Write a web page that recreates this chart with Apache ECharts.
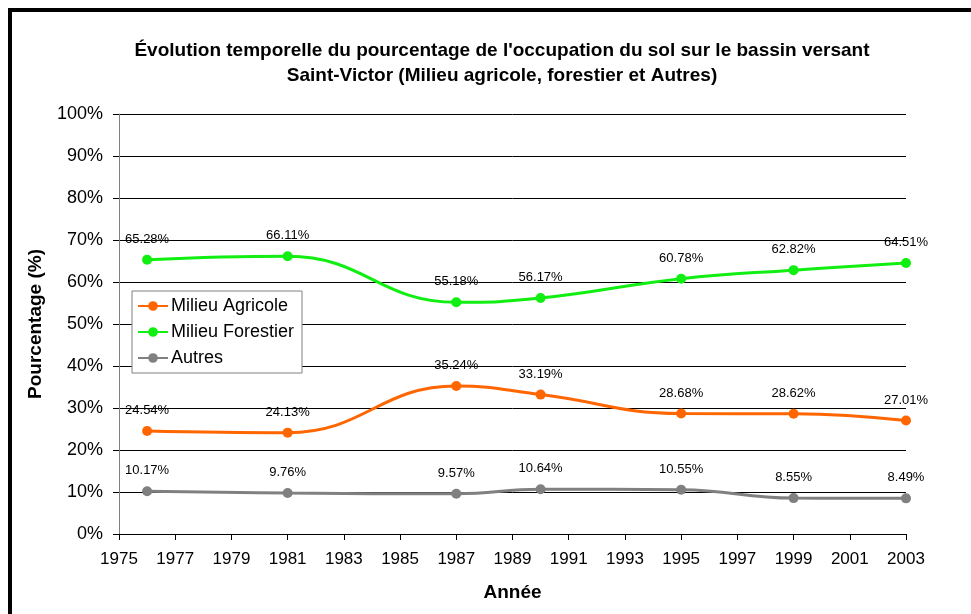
<!DOCTYPE html>
<html>
<head>
<meta charset="utf-8">
<script src="https://cdn.jsdelivr.net/npm/echarts@6/dist/echarts.min.js"></script>
<style>
html, body { margin: 0; padding: 0; background: #fff; }
#chart { width: 971px; height: 614px; }
</style>
</head>
<body>
<div id="chart"></div>
<script>
// donnees
var annees = [1976, 1981, 1987, 1990, 1995, 1999, 2003];
var agricole = [24.54, 24.13, 35.24, 33.19, 28.68, 28.62, 27.01];
var forestier = [65.28, 66.11, 55.18, 56.17, 60.78, 62.82, 64.51];
var autres = [10.17, 9.76, 9.57, 10.64, 10.55, 8.55, 8.49];
var noms = ['Milieu Agricole', 'Milieu Forestier', 'Autres'];
var couleurs = ['#FF6600', '#11EE11', '#808080'];

function paires(vals) {
    var out = [];
    for (var i = 0; i < annees.length; i++) {
        out.push([annees[i], vals[i]]);
    }
    return out;
}

function serie(nom, vals, couleur) {
    return {
        name: nom,
        type: 'line',
        data: paires(vals),
        smooth: 0.45,
        symbol: 'circle',
        symbolSize: 10,
        lineStyle: { width: 3, color: couleur },
        itemStyle: { color: couleur },
        label: {
            show: true,
            position: 'top',
            distance: 9,
            fontFamily: 'Liberation Sans, Arial',
            fontSize: 13,
            color: '#000',
            formatter: function (p) { return p.value[1].toFixed(2) + '%'; }
        },
        emphasis: { disabled: true }
    };
}

var chart = echarts.init(document.getElementById('chart'));
var option = {
    backgroundColor: '#fff',
    animation: false,
    textStyle: { fontFamily: 'Liberation Sans, Arial' },
    graphic: [
        { type: 'rect', shape: { x: 8, y: 8, width: 980, height: 4 }, style: { fill: '#000' } },
        { type: 'rect', shape: { x: 8, y: 8, width: 4, height: 620 }, style: { fill: '#000' } }
    ],
    title: {
        text: "Évolution temporelle du pourcentage de l'occupation du sol sur le bassin versant\nSaint-Victor (Milieu agricole, forestier et Autres)",
        left: 497,
        top: 33,
        textAlign: 'center',
        textStyle: {
            fontFamily: 'Liberation Sans, Arial',
            fontSize: 19,
            fontWeight: 'bold',
            color: '#000',
            lineHeight: 25
        }
    },
    legend: {
        orient: 'vertical',
        left: 132,
        top: 291,
        padding: [6, 8, 6, 5],
        itemGap: 8,
        itemWidth: 30,
        itemHeight: 12,
        backgroundColor: '#fff',
        borderColor: '#808080',
        borderWidth: 1,
        borderRadius: 0,
        textStyle: { fontSize: 18, color: '#000', fontFamily: 'Liberation Sans, Arial', padding: [0, 0, 0, -2] },
        data: noms
    },
    grid: { left: 119, right: 65, top: 114, bottom: 80, containLabel: false },
    xAxis: {
        type: 'value',
        min: 1975,
        max: 2003,
        interval: 2,
        name: 'Année',
        nameLocation: 'middle',
        nameGap: 49,
        nameTextStyle: { fontSize: 19, fontWeight: 'bold', color: '#000' },
        axisLine: { lineStyle: { color: '#000', width: 1 } },
        axisTick: { show: true, length: 6, lineStyle: { color: '#000' } },
        axisLabel: {
            fontSize: 17,
            color: '#000',
            margin: 17,
            formatter: function (v) { return String(v); }
        },
        splitLine: { show: false }
    },
    yAxis: {
        type: 'value',
        min: 0,
        max: 100,
        interval: 10,
        name: 'Pourcentage (%)',
        nameLocation: 'middle',
        nameGap: 74,
        nameTextStyle: { fontSize: 19, fontWeight: 'bold', color: '#000' },
        axisLine: { show: true, lineStyle: { color: '#808080', width: 1 } },
        axisTick: { show: true, length: 6, lineStyle: { color: '#000' } },
        axisLabel: {
            fontSize: 18,
            color: '#000',
            margin: 16,
            formatter: function (v) { return v + '%'; }
        },
        splitLine: { show: true, lineStyle: { color: '#000', width: 1 } }
    },
    series: [
        serie(noms[0], agricole, couleurs[0]),
        serie(noms[1], forestier, couleurs[1]),
        serie(noms[2], autres, couleurs[2])
    ]
};
chart.setOption(option);
</script>
</body>
</html>
